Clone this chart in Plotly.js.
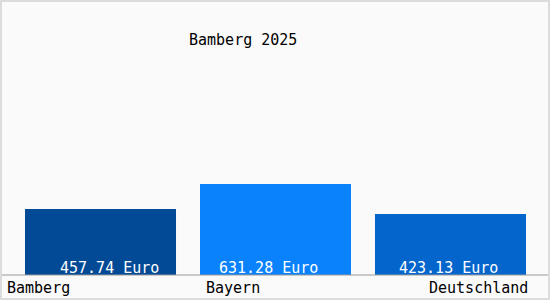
<!DOCTYPE html>
<html>
<head>
<meta charset="utf-8">
<script src="https://cdn.plot.ly/plotly-3.0.1.min.js"></script>
<style>
html,body{margin:0;padding:0;background:#fafafa;}
#wrap{position:relative;width:550px;height:300px;}
#frame{position:absolute;left:0;top:0;width:546px;height:296px;border:2px solid #dcdcdc;pointer-events:none;}
</style>
</head>
<body>
<div id="wrap"><div id="chart" style="width:550px;height:300px;"></div><div id="frame"></div></div>
<script>
var categories = ["Bamberg", "Bayern", "Deutschland"];
var values = [457.74, 631.28, 423.13];
var barColors = ["#034a96", "#0a82fc", "#0466cc"];
var titleText = "Bamberg 2025";
var unit = "Euro";

var font = "DejaVu Sans Mono, monospace";

var trace = {
  type: "bar",
  x: categories,
  y: values,
  marker: {color: barColors, line: {width: 0}},
  hoverinfo: "none"
};

var labelX = [-8/525, 191/525, 517/525];
var labelAnchor = ["left", "left", "right"];
var annotations = categories.map(function(c, i){
  return {text: c, xref: "paper", yref: "paper", x: labelX[i], y: -13/275,
          xanchor: labelAnchor[i], yanchor: "middle", showarrow: false,
          font: {family: font, size: 15, color: "#000000"}};
});
var valueShift = [8.5, -7, -2];
values.forEach(function(v, i){
  annotations.push({text: v.toFixed(2) + " " + unit, xref: "x", yref: "y",
    x: categories[i], y: 0, xanchor: "center", yanchor: "middle",
    xshift: valueShift[i], yshift: 7, showarrow: false,
    font: {family: font, size: 15, color: "#ffffff"}});
});

var layout = {
  width: 550, height: 300,
  margin: {l: 13, r: 12, t: 0, b: 25, pad: 0},
  paper_bgcolor: "#fafafa",
  plot_bgcolor: "#fafafa",
  bargap: 0.137,
  showlegend: false,
  title: {text: titleText, x: 189/550, xanchor: "left", y: 1 - 40/300, yanchor: "middle",
          font: {family: font, size: 15, color: "#000000"}},
  xaxis: {visible: false, range: [-0.5, 2.5], fixedrange: true},
  yaxis: {visible: false, range: [0, 1907], fixedrange: true},
  annotations: annotations,
  shapes: [{type: "line", xref: "paper", yref: "paper", x0: -13/525, x1: 537/525, y0: 0, y1: 0,
            line: {color: "#999999", width: 1}, layer: "above"}]
};

Plotly.newPlot("chart", [trace], layout, {staticPlot: true, displayModeBar: false});
</script>
</body>
</html>
